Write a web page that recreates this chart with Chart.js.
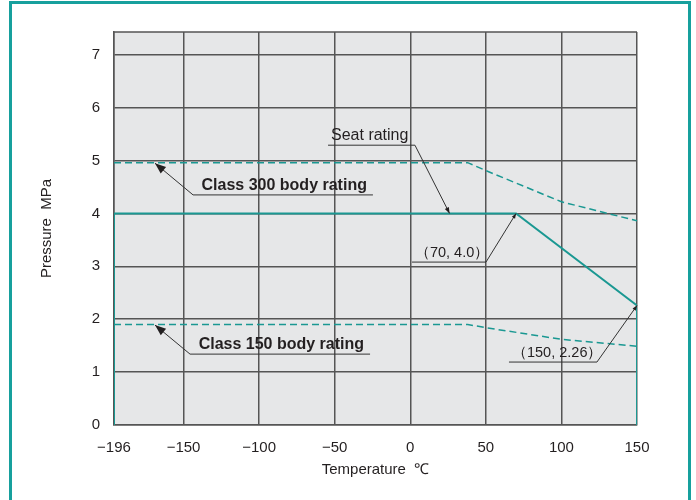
<!DOCTYPE html>
<html lang="en">
<head>
  <meta charset="UTF-8">
  <title>Pressure-Temperature Rating</title>
  <script src="https://cdn.jsdelivr.net/npm/chart.js"></script>
  <style>
    body { margin: 0; background: #fff; }
    #wrap { position: relative; width: 696px; height: 500px; }
    #frame {
      position: absolute; left: 9px; top: 1px; width: 676px; height: 520px;
      border: 3px solid #17a09d; pointer-events: none;
    }
  </style>
</head>
<body>
  <div id="wrap">
    <canvas id="ptChart" width="696" height="500"></canvas>
    <div id="frame"></div>
  </div>

  <script>
    // axis ticks
    const xTicks = [-196, -150, -100, -50, 0, 50, 100, 150];
    const yTicks = [0, 1, 2, 3, 4, 5, 6, 7];

    // seat rating (solid)
    const seatTemp = [-196, -196, 70, 150, 150];
    const seatPress = [0, 4.0, 4.0, 2.26, 0];

    // body ratings (dashed)
    const bodyTemp = [-196, 38, 50, 100, 150];
    const class300Press = [4.96, 4.96, 4.81, 4.22, 3.86];
    const class150Press = [1.90, 1.90, 1.84, 1.62, 1.49];

    const teal = '#1a9892';
    const ink = '#231f20';
    const family = '"Liberation Sans", Arial, sans-serif';

    const toPoints = (xs, ys) => xs.map((x, i) => ({ x: x, y: ys[i] }));

    // callout labels, anchored in data units
    const callouts = [
      { text: 'Seat rating', bold: false, size: 16, from: -54.4, to: 3.1, at: 5.29, leaderFrom: 'end', tip: [26, 4.0], head: 6 },
      { text: 'Class 300 body rating', bold: true, size: 16, from: -143.7, to: -24.7, at: 4.35, leaderFrom: 'start', tip: [-168.9, 4.95], head: 11 },
      { text: 'Class 150 body rating', bold: true, size: 16, from: -145.7, to: -26.6, at: 1.34, leaderFrom: 'start', tip: [-168.9, 1.89], head: 11 },
      { text: '\uFF0870, 4.0\uFF09', bold: false, size: 14.5, from: 1.1, to: 50.1, at: 3.08, leaderFrom: 'end', tip: [70, 4.0], head: 5 },
      { text: '\uFF08150, 2.26\uFF09', bold: false, size: 14.5, from: 65.3, to: 123.5, at: 1.19, leaderFrom: 'end', tip: [150, 2.26], head: 5 }
    ];

    const plotBox = {
      id: 'plotBox',
      beforeDraw(chart) {
        const { ctx, chartArea: a } = chart;
        ctx.save();
        ctx.fillStyle = '#e6e7e8';
        ctx.fillRect(a.left, a.top, a.right - a.left, a.bottom - a.top);
        ctx.restore();
      },
      afterDraw(chart) {
        const { ctx, chartArea: a, scales } = chart;
        const sx = scales.x, sy = scales.y;
        ctx.save();
        ctx.strokeStyle = '#555';
        ctx.lineWidth = 1.5;
        ctx.beginPath();
        ctx.moveTo(a.left, a.top);
        ctx.lineTo(a.right, a.top);
        ctx.stroke();

        callouts.forEach(c => {
          const x1 = sx.getPixelForValue(c.from);
          const x2 = sx.getPixelForValue(c.to);
          const y = sy.getPixelForValue(c.at);
          const tx = sx.getPixelForValue(c.tip[0]);
          const ty = sy.getPixelForValue(c.tip[1]);
          const lx = c.leaderFrom === 'start' ? x1 : x2;

          ctx.strokeStyle = '#333';
          ctx.lineWidth = 1;
          ctx.beginPath();
          ctx.moveTo(x1, y);
          ctx.lineTo(x2, y);
          ctx.stroke();

          ctx.beginPath();
          ctx.moveTo(lx, y);
          ctx.lineTo(tx, ty);
          ctx.stroke();

          // arrow head
          const ang = Math.atan2(ty - y, tx - lx);
          const h = c.head, w = h * 0.38;
          ctx.fillStyle = ink;
          ctx.beginPath();
          ctx.moveTo(tx, ty);
          ctx.lineTo(tx - h * Math.cos(ang) + w * Math.sin(ang), ty - h * Math.sin(ang) - w * Math.cos(ang));
          ctx.lineTo(tx - h * Math.cos(ang) - w * Math.sin(ang), ty - h * Math.sin(ang) + w * Math.cos(ang));
          ctx.closePath();
          ctx.fill();

          ctx.font = (c.bold ? 'bold ' : '') + c.size + 'px ' + family;
          ctx.fillStyle = ink;
          ctx.textBaseline = 'alphabetic';
          ctx.textAlign = 'left';
          const tw = ctx.measureText(c.text).width;
          const textX = c.bold ? x2 - tw - 6 : x1 + 3;
          ctx.fillText(c.text, textX, y - 5);
        });
        ctx.restore();
      }
    };

    const ctx = document.getElementById('ptChart').getContext('2d');
    new Chart(ctx, {
      type: 'line',
      data: {
        datasets: [
          {
            label: 'Seat rating',
            data: toPoints(seatTemp, seatPress),
            borderColor: teal,
            borderWidth: 2,
            pointRadius: 0,
            fill: false
          },
          {
            label: 'Class 300 body rating',
            data: toPoints(bodyTemp, class300Press),
            borderColor: teal,
            borderWidth: 1.5,
            borderDash: [7, 4],
            pointRadius: 0,
            fill: false
          },
          {
            label: 'Class 150 body rating',
            data: toPoints(bodyTemp, class150Press),
            borderColor: teal,
            borderWidth: 1.5,
            borderDash: [7, 4],
            pointRadius: 0,
            fill: false
          }
        ]
      },
      options: {
        responsive: false,
        animation: false,
        events: [],
        layout: { padding: { top: 32, right: 59, left: 0, bottom: 0 } },
        plugins: {
          legend: { display: false },
          tooltip: { enabled: false }
        },
        scales: {
          x: {
            type: 'linear',
            min: -196,
            max: 150,
            afterBuildTicks: s => { s.ticks = xTicks.map(v => ({ value: v })); },
            afterFit: s => { s.height = 75; },
            grid: { color: '#555', lineWidth: 1.5, drawTicks: false },
            border: { color: '#555', width: 1.5 },
            ticks: {
              padding: 14,
              color: ink,
              font: { family: family, size: 15 },
              maxRotation: 0,
              callback: v => String(v).replace('-', '\u2212')
            },
            title: {
              display: true,
              text: 'Temperature  \u2103',
              color: ink,
              font: { family: family, size: 15 },
              padding: { bottom: 21 }
            }
          },
          y: {
            type: 'linear',
            min: 0,
            max: 7.43,
            afterBuildTicks: s => { s.ticks = yTicks.map(v => ({ value: v })); },
            afterFit: s => { s.width = 114; },
            grid: { color: '#555', lineWidth: 1.5, drawTicks: false },
            border: { color: '#555', width: 1.5 },
            ticks: {
              padding: 14,
              color: ink,
              font: { family: family, size: 15 }
            },
            title: {
              display: true,
              text: 'Pressure  MPa',
              color: ink,
              font: { family: family, size: 15 },
              padding: { top: 38 }
            }
          }
        }
      },
      plugins: [plotBox]
    });
  </script>
</body>
</html>
